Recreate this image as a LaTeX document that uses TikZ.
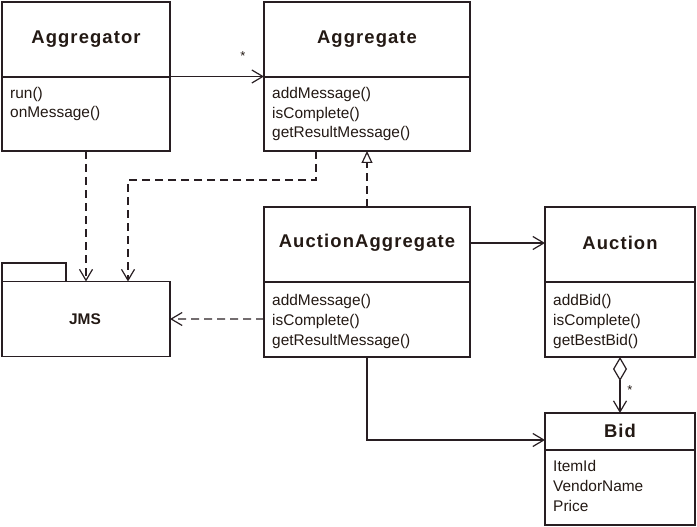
\documentclass[tikz,border=0pt]{standalone}
\usepackage{fontspec}
\setmainfont{Liberation Sans}
\usetikzlibrary{arrows.meta}
\definecolor{ln}{RGB}{40,30,34}
\definecolor{tx}{RGB}{35,25,20}
\tikzset{
  x=1bp, y=-1bp,
  cls/.style={draw=ln, line width=1.3bp, rectangle, inner sep=0pt, outer sep=0pt, fill=white},
  ttl/.style={text=tx, font=\fontsize{18.5}{20}\selectfont\bfseries\addfontfeature{LetterSpace=6}, inner sep=0pt},
  mth/.style={text=tx, font=\fontsize{15.5}{20}\selectfont, align=left, anchor=base west, inner sep=0pt},
  divider/.style={draw=ln, line width=1.3bp},
  conn/.style={draw=ln, line width=1.2bp},
  dep/.style={conn, dash pattern=on 8bp off 5bp, -{Straight Barb[length=11bp,width=13bp,line width=1.2bp]}},
  assoc/.style={conn, -{Straight Barb[length=11bp,width=13bp,line width=1.2bp]}},
  real/.style={conn, dash pattern=on 8bp off 5bp, -{Triangle[open,length=12bp,width=11bp,line width=1.2bp,fill=white]}},
  aggr/.style={conn, {Diamond[open,length=24bp,width=14bp,line width=1.2bp,fill=white]}-{Straight Barb[length=11bp,width=13bp,line width=1.2bp]}},
  mult/.style={text=tx, font=\fontsize{13}{13}\selectfont, inner sep=0pt}
}
\begin{document}
\begin{tikzpicture}
\useasboundingbox (0,0) rectangle (697,527);
% class boxes
\node[cls, minimum width=168bp, minimum height=149bp] (agr) at (86,76.5) {};
\node[cls, minimum width=206bp, minimum height=149bp] (agg) at (367,76.5) {};
\node[cls, minimum width=206bp, minimum height=150bp] (aa) at (367,282) {};
\node[cls, minimum width=150bp, minimum height=150bp] (auc) at (620,282) {};
\node[cls, minimum width=150bp, minimum height=112bp] (bid) at (620,469) {};
% JMS package
\draw[cls] (2,263) rectangle (66,282);
\node[cls, minimum width=168bp, minimum height=75bp] (jms) at (86,319) {};
\node[text=tx, font=\fontsize{15.5}{16}\selectfont\bfseries, inner sep=0pt] (jmsl) at (85,319) {JMS};
% dividers
\draw[divider] (agr.west |- 0,77) -- (agr.east |- 0,77);
\draw[divider] (agg.west |- 0,77) -- (agg.east |- 0,77);
\draw[divider] (aa.west |- 0,282) -- (aa.east |- 0,282);
\draw[divider] (auc.west |- 0,282) -- (auc.east |- 0,282);
\draw[divider] (bid.west |- 0,450) -- (bid.east |- 0,450);
% titles
\node[ttl] (agrt) at (86,39) {Aggregator};
\node[ttl] (aggt) at (367,39) {Aggregate};
\node[ttl] (aat) at (367,243) {AuctionAggregate};
\node[ttl] (auct) at (620,243) {Auction};
\node[ttl] (bidt) at (620,431) {Bid};
% members (anchor = baseline of the last line)
\node[mth] (agrm) at (10,118) {run()\\onMessage()};
\node[mth] (aggm) at (272,138) {addMessage()\\isComplete()\\getResultMessage()};
\node[mth] (aam) at (272,345) {addMessage()\\isComplete()\\getResultMessage()};
\node[mth] (aucm) at (553,345) {addBid()\\isComplete()\\getBestBid()};
\node[mth] (bidm) at (553,511) {ItemId\\VendorName\\Price};
% connectors
\draw[assoc] (agr.east) -- (agg.west);
\node[mult] (s1) at (243,56) {*};
\draw[dep] (agr.south) -- (jms.north);
\draw[dep] ([xshift=-51bp]agg.south) -- ++(0,29) -| ([xshift=42bp]jms.north);
\draw[real] (aa.north) -- (agg.south);
\draw[assoc] ([yshift=39bp]aa.east) -- ([yshift=39bp]auc.west);
\draw[dep] ([yshift=-37bp]aa.west) -- (jms.east);
\draw[aggr] (auc.south) -- (bid.north);
\node[mult] (s2) at (630,390) {*};
\draw[assoc] (aa.south) |- ([yshift=29bp]bid.west);
\end{tikzpicture}
\end{document}
